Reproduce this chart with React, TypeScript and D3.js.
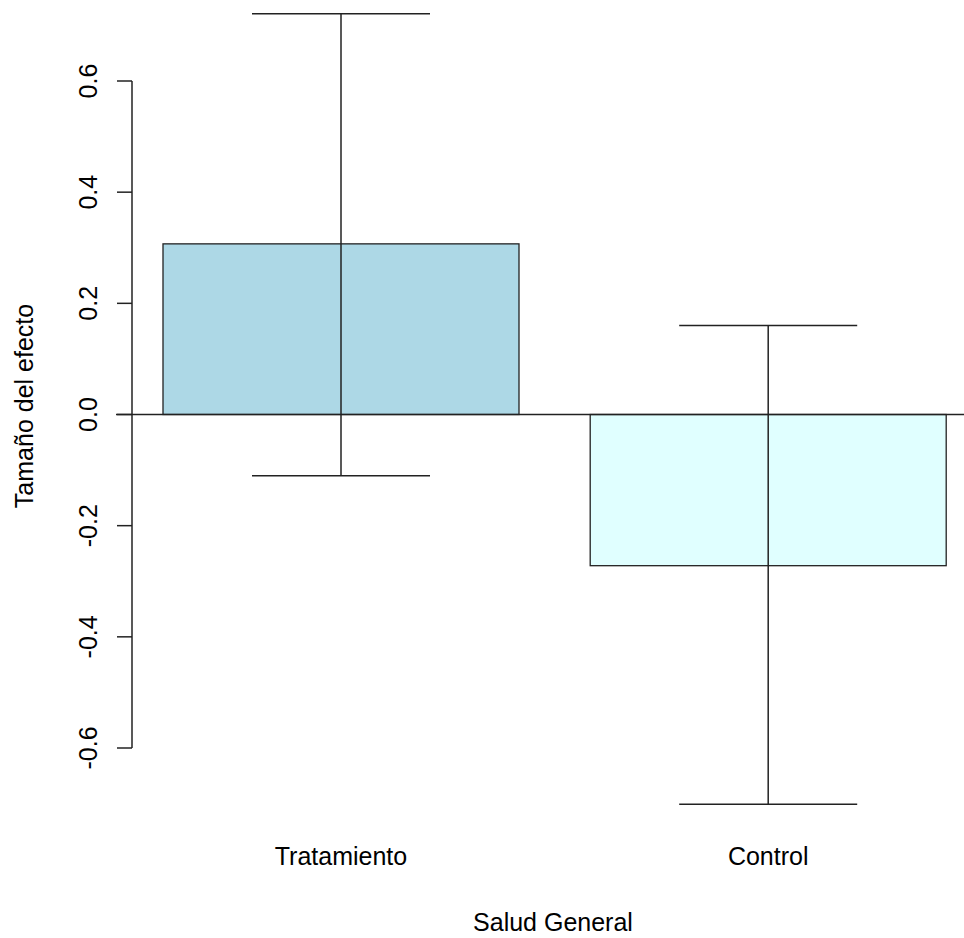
import React from "react";
import * as d3 from "d3";

// Chart values
const categories = ["Tratamiento", "Control"];
const effects = [0.307, -0.272];
const ciLower = [-0.11, -0.701];
const ciUpper = [0.721, 0.16];
const barColors = ["#ADD8E6", "#E0FFFF"];
const yTicks = [-0.6, -0.4, -0.2, 0.0, 0.2, 0.4, 0.6];

const width = 964;
const height = 938;
const font = "'Liberation Sans', Arial, sans-serif";
const fs = 25;

// R barplot geometry: bar width 1, space 0.2
const barWidth = 1;
const space = 0.2;

const App = () => {
  // y scale: 0.6 -> 81px, -0.6 -> 748px
  const y = d3.scaleLinear().domain([-0.6, 0.6]).range([748, 81]);

  // x in barplot user units
  const x = d3.scaleLinear().domain([0, 2.6]).range([91.8, 91.8 + 2.6 * 356]);

  const left = (i: number) => space + i * (barWidth + space);
  const mid = (i: number) => x(left(i) + barWidth / 2);
  const capHalf = (x(1) - x(0)) / 4;

  return (
    <svg
      width={width}
      height={height}
      style={{ position: "absolute", left: 0, top: 0, background: "#fff" }}
    >
      {/* bars */}
      {categories.map((c, i) => {
        const y0 = y(0);
        const y1 = y(effects[i]);
        return (
          <rect
            key={c}
            x={x(left(i))}
            y={Math.min(y0, y1)}
            width={x(left(i) + barWidth) - x(left(i))}
            height={Math.abs(y1 - y0)}
            fill={barColors[i]}
            stroke="#222"
            strokeWidth={1.3}
          />
        );
      })}

      {/* zero line */}
      <line x1={116} x2={width} y1={y(0)} y2={y(0)} stroke="#222" strokeWidth={1.5} />

      {/* error bars */}
      {categories.map((c, i) => {
        const cx = mid(i);
        return (
          <g key={c} stroke="#222" strokeWidth={1.5}>
            <line x1={cx} x2={cx} y1={y(ciUpper[i])} y2={y(ciLower[i])} />
            <line x1={cx - capHalf} x2={cx + capHalf} y1={y(ciUpper[i])} y2={y(ciUpper[i])} />
            <line x1={cx - capHalf} x2={cx + capHalf} y1={y(ciLower[i])} y2={y(ciLower[i])} />
          </g>
        );
      })}

      {/* y axis */}
      <g stroke="#222" strokeWidth={1.5}>
        <line x1={132} x2={132} y1={y(0.6)} y2={y(-0.6)} />
        {yTicks.map((t) => (
          <line key={t} x1={117} x2={132} y1={y(t)} y2={y(t)} />
        ))}
      </g>
      {yTicks.map((t) => (
        <text
          key={t}
          transform={`translate(97,${y(t)}) rotate(-90)`}
          textAnchor="middle"
          fontFamily={font}
          fontSize={fs}
          fill="#000"
        >
          {t.toFixed(1)}
        </text>
      ))}

      {/* category labels */}
      {categories.map((c, i) => (
        <text
          key={c}
          x={mid(i)}
          y={865}
          textAnchor="middle"
          fontFamily={font}
          fontSize={fs}
          fill="#000"
        >
          {c}
        </text>
      ))}

      {/* axis titles */}
      <text x={553} y={931} textAnchor="middle" fontFamily={font} fontSize={fs} fill="#000">
        Salud General
      </text>
      <text
        transform={`translate(33,406) rotate(-90)`}
        textAnchor="middle"
        fontFamily={font}
        fontSize={fs}
        fill="#000"
      >
        Tamaño del efecto
      </text>
    </svg>
  );
};

export default App;
